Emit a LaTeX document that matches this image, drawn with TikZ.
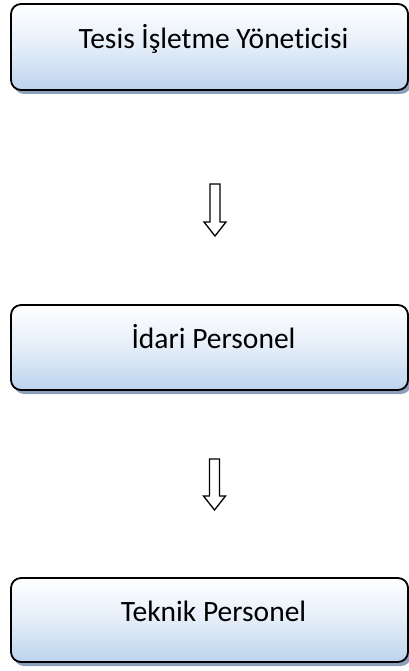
\documentclass[tikz,border=0pt]{standalone}
\usepackage{fontspec}
\setmainfont{Carlito}[Ligatures=NoCommon]
\usetikzlibrary{calc,shadows}
\definecolor{boxblue}{RGB}{188,211,238}
\definecolor{shadowblue}{RGB}{140,160,188}

\begin{document}
\begin{tikzpicture}[x=1pt,y=-1pt]
    \tikzstyle{orgbox} = [rectangle, rounded corners=10pt, draw, line width=1.8pt,
        top color=white, bottom color=boxblue, middle color=white!60!boxblue,
        minimum width=397pt, inner sep=0pt, text height=10pt, text depth=7.5pt,
        font=\fontsize{29.5}{34}\selectfont,
        drop shadow={shadow xshift=3pt, shadow yshift=-4pt, fill=shadowblue, opacity=1}]
    \tikzstyle{downarr} = [draw, line width=1.3pt, fill=white, line join=miter]
    \useasboundingbox (0,0) rectangle (409,671);
    \node[orgbox, minimum height=86pt] (tesis) at (209.5,47) {\hspace*{8pt}Tesis İşletme Yöneticisi};
    \node[orgbox, minimum height=85pt] (idari) at (209.5,347.5) {\hspace*{8pt}İdari Personel};
    \node[orgbox, minimum height=84pt] (teknik) at (209.5,620) {\hspace*{8pt}Teknik Personel};
    \coordinate (a1top) at (215,184); \coordinate (a1tip) at (215,236);
    \coordinate (a2top) at (214.5,459); \coordinate (a2tip) at (214.5,510);
    \draw[downarr] ($(a1top)+(-5,0)$) -- ($(a1top)+(5,0)$) -- ($(a1tip)+(5,-14)$) -- ($(a1tip)+(11,-14)$)
        -- (a1tip) -- ($(a1tip)+(-11,-14)$) -- ($(a1tip)+(-5,-14)$) -- cycle;
    \draw[downarr] ($(a2top)+(-5,0)$) -- ($(a2top)+(5,0)$) -- ($(a2tip)+(5,-14)$) -- ($(a2tip)+(11,-14)$)
        -- (a2tip) -- ($(a2tip)+(-11,-14)$) -- ($(a2tip)+(-5,-14)$) -- cycle;
\end{tikzpicture}
\end{document}
